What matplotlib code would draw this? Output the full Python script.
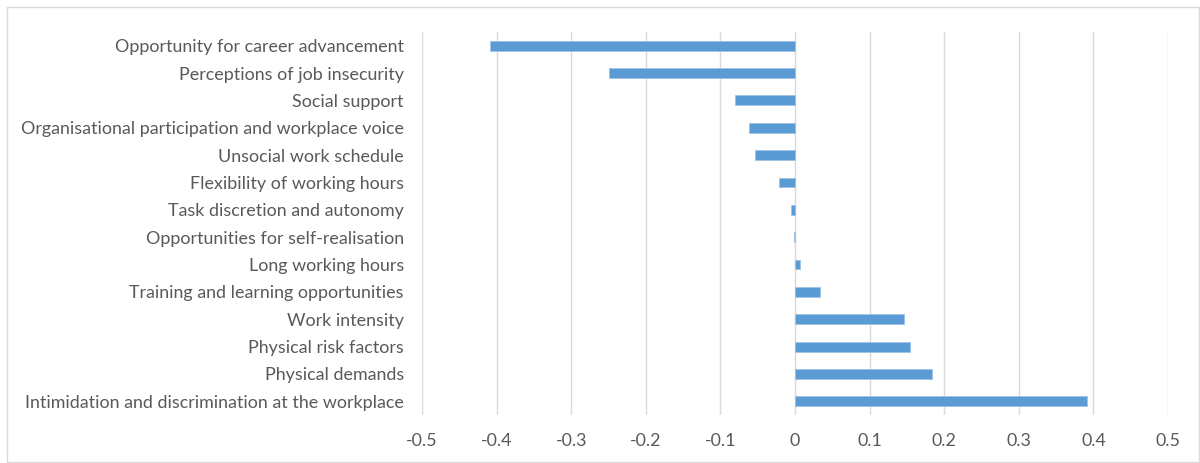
import matplotlib.pyplot as plt
from matplotlib.patches import Rectangle

# factors, top to bottom as drawn
factors = [
    "Opportunity for career advancement",
    "Perceptions of job insecurity",
    "Social support",
    "Organisational participation and workplace voice",
    "Unsocial work schedule",
    "Flexibility of working hours",
    "Task discretion and autonomy",
    "Opportunities for self-realisation",
    "Long working hours",
    "Training and learning opportunities",
    "Work intensity",
    "Physical risk factors",
    "Physical demands",
    "Intimidation and discrimination at the workplace",
]
values = [-0.409, -0.250, -0.081, -0.062, -0.054, -0.021, -0.006,
          -0.001, 0.006, 0.034, 0.146, 0.154, 0.184, 0.391]
xticks = [-0.5, -0.4, -0.3, -0.2, -0.1, 0, 0.1, 0.2, 0.3, 0.4, 0.5]
xticklabels = ["-0.5", "-0.4", "-0.3", "-0.2", "-0.1", "0",
               "0.1", "0.2", "0.3", "0.4", "0.5"]

plt.rcParams['font.family'] = ['Lato', 'DejaVu Sans']
text_col = '#595959'
grid_col = '#D9D9D9'

fig = plt.figure(figsize=(12, 4.63), dpi=100)
ax = fig.add_axes([0.3517, 0.1037, 0.6217, 0.8272])

pos = list(range(len(factors)))
ax.barh(pos, values, height=0.36, color='#5B9BD5', edgecolor='#9DC3E6',
        linewidth=0.6, zorder=2)

ax.set_xlim(-0.5, 0.5)
ax.set_ylim(len(factors) - 0.5, -0.5)
ax.set_xticks(xticks)
ax.set_xticklabels(xticklabels)
ax.set_yticks(pos)
ax.set_yticklabels(factors)
ax.tick_params(axis='both', length=0, labelsize=12.9, colors=text_col)
ax.tick_params(axis='x', pad=13)
ax.tick_params(axis='y', pad=13)
ax.grid(axis='x', color=grid_col, linewidth=1, zorder=0)
for s in ax.spines.values():
    s.set_visible(False)

# outer chart border
fig.patches.append(Rectangle((7 / 1200, 1 / 463), 1 - 8 / 1200, 1 - 8 / 463,
                             transform=fig.transFigure, fill=False,
                             edgecolor=grid_col, linewidth=1))

fig.savefig('out.png', dpi=100)
